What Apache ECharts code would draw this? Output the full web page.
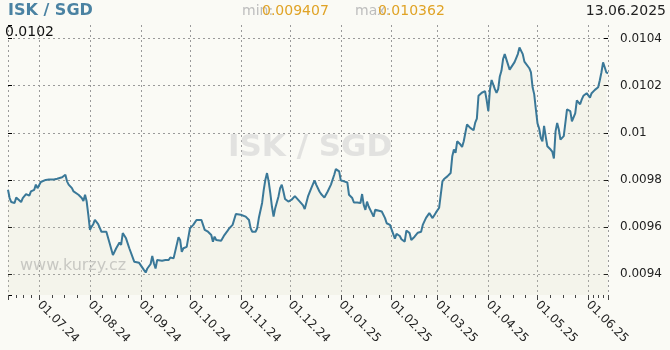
<!DOCTYPE html>
<html>
<head>
<meta charset="utf-8">
<script src="https://cdn.jsdelivr.net/npm/echarts@6/dist/echarts.min.js"></script>
<style>
  html, body { margin: 0; padding: 0; background: #fafaf5; }
  #chart { width: 670px; height: 350px; }
</style>
</head>
<body>
<div id="chart"></div>
<script>
// ISK / SGD daily rate, 12.06.2024 – 13.06.2025
const pairName = 'ISK / SGD';
const siteName = 'www.kurzy.cz';
const lastDateText = '13.06.2025';
const lastRateText = '0.0102';
const minRate = 0.009407;
const maxRate = 0.010362;

const dates = [
  '2024-06-12','2024-06-13','2024-06-14','2024-06-16','2024-06-17','2024-06-18','2024-06-20','2024-06-21','2024-06-23','2024-06-25',
  '2024-06-26','2024-06-28','2024-06-29','2024-06-30','2024-07-02','2024-07-03','2024-07-05','2024-07-07','2024-07-08','2024-07-10',
  '2024-07-12','2024-07-15','2024-07-16','2024-07-17','2024-07-18','2024-07-19','2024-07-21','2024-07-22','2024-07-23','2024-07-25',
  '2024-07-26','2024-07-27','2024-07-28','2024-07-29','2024-07-30','2024-07-31','2024-08-01','2024-08-02','2024-08-03','2024-08-04',
  '2024-08-06','2024-08-07','2024-08-08','2024-08-09','2024-08-11','2024-08-12','2024-08-13','2024-08-15','2024-08-17','2024-08-19',
  '2024-08-20','2024-08-21','2024-08-23','2024-08-25','2024-08-26','2024-08-28','2024-08-29','2024-08-31','2024-09-01','2024-09-03',
  '2024-09-04','2024-09-05','2024-09-07','2024-09-08','2024-09-09','2024-09-10','2024-09-11','2024-09-14','2024-09-16','2024-09-18',
  '2024-09-19','2024-09-21','2024-09-22','2024-09-24','2024-09-25','2024-09-26','2024-09-27','2024-09-29','2024-09-30','2024-10-01',
  '2024-10-03','2024-10-05','2024-10-06','2024-10-08','2024-10-09','2024-10-10','2024-10-12','2024-10-14','2024-10-15','2024-10-16',
  '2024-10-17','2024-10-18','2024-10-20','2024-10-21','2024-10-22','2024-10-24','2024-10-25','2024-10-27','2024-10-29','2024-10-30',
  '2024-11-01','2024-11-04','2024-11-06','2024-11-07','2024-11-08','2024-11-10','2024-11-11','2024-11-12','2024-11-14','2024-11-15',
  '2024-11-16','2024-11-17','2024-11-18','2024-11-19','2024-11-20','2024-11-21','2024-11-22','2024-11-24','2024-11-25','2024-11-26',
  '2024-11-27','2024-11-28','2024-11-30','2024-12-01','2024-12-02','2024-12-04','2024-12-05','2024-12-07','2024-12-09','2024-12-10',
  '2024-12-11','2024-12-12','2024-12-14','2024-12-16','2024-12-17','2024-12-19','2024-12-20','2024-12-22','2024-12-24','2024-12-26',
  '2024-12-28','2024-12-29','2024-12-31','2025-01-01','2025-01-03','2025-01-05','2025-01-06','2025-01-08','2025-01-09','2025-01-11',
  '2025-01-13','2025-01-14','2025-01-15','2025-01-16','2025-01-17','2025-01-18','2025-01-20','2025-01-21','2025-01-22','2025-01-23',
  '2025-01-26','2025-01-28','2025-01-29','2025-01-31','2025-02-01','2025-02-03','2025-02-04','2025-02-06','2025-02-07','2025-02-09',
  '2025-02-10','2025-02-12','2025-02-13','2025-02-15','2025-02-17','2025-02-19','2025-02-20','2025-02-22','2025-02-24','2025-02-25',
  '2025-02-26','2025-02-28','2025-03-02','2025-03-03','2025-03-04','2025-03-05','2025-03-07','2025-03-09','2025-03-10','2025-03-11',
  '2025-03-12','2025-03-13','2025-03-15','2025-03-16','2025-03-17','2025-03-18','2025-03-19','2025-03-21','2025-03-23','2025-03-24',
  '2025-03-25','2025-03-26','2025-03-28','2025-03-30','2025-03-31','2025-04-01','2025-04-02','2025-04-03','2025-04-04','2025-04-05',
  '2025-04-06','2025-04-07','2025-04-08','2025-04-09','2025-04-10','2025-04-11','2025-04-12','2025-04-14','2025-04-15','2025-04-17',
  '2025-04-19','2025-04-20','2025-04-22','2025-04-23','2025-04-24','2025-04-26','2025-04-27','2025-04-28','2025-04-29','2025-04-30',
  '2025-05-01','2025-05-02','2025-05-03','2025-05-04','2025-05-05','2025-05-06','2025-05-07','2025-05-08','2025-05-09','2025-05-10',
  '2025-05-11','2025-05-12','2025-05-13','2025-05-14','2025-05-15','2025-05-17','2025-05-18','2025-05-19','2025-05-21','2025-05-22',
  '2025-05-24','2025-05-25','2025-05-27','2025-05-28','2025-05-29','2025-05-31','2025-06-01','2025-06-02','2025-06-03','2025-06-05',
  '2025-06-07','2025-06-08','2025-06-09','2025-06-10','2025-06-11','2025-06-12','2025-06-13'
];

const rates = [
  0.009758,0.009723,0.009706,0.009702,0.009725,0.009730,0.009706,0.009723,0.009740,0.009733,
  0.009751,0.009758,0.009780,0.009765,0.009791,0.009798,0.009800,0.009802,0.009800,0.009802,
  0.009805,0.009811,0.009819,0.009822,0.009794,0.009780,0.009765,0.009751,0.009754,0.009737,
  0.009740,0.009723,0.009711,0.009737,0.009708,0.009652,0.009588,0.009602,0.009612,0.009630,
  0.009612,0.009609,0.009580,0.009576,0.009580,0.009574,0.009531,0.009481,0.009510,0.009534,
  0.009524,0.009574,0.009552,0.009510,0.009502,0.009453,0.009446,0.009448,0.009446,0.009417,
  0.009407,0.009424,0.009443,0.009477,0.009446,0.009424,0.009460,0.009457,0.009460,0.009460,
  0.009471,0.009467,0.009460,0.009557,0.009545,0.009495,0.009510,0.009516,0.009519,0.009595,
  0.009609,0.009630,0.009638,0.009630,0.009638,0.009588,0.009580,0.009566,0.009538,0.009559,
  0.009545,0.009548,0.009542,0.009538,0.009566,0.009585,0.009595,0.009609,0.009655,0.009656,
  0.009652,0.009644,0.009630,0.009595,0.009580,0.009580,0.009595,0.009638,0.009702,0.009758,
  0.009801,0.009829,0.009794,0.009744,0.009687,0.009644,0.009680,0.009730,0.009765,0.009780,
  0.009751,0.009719,0.009708,0.009702,0.009716,0.009731,0.009730,0.009708,0.009692,0.009676,
  0.009671,0.009730,0.009765,0.009798,0.009780,0.009751,0.009740,0.009725,0.009751,0.009780,
  0.009822,0.009846,0.009836,0.009798,0.009794,0.009789,0.009737,0.009723,0.009704,0.009704,
  0.009702,0.009740,0.009694,0.009673,0.009708,0.009687,0.009659,0.009644,0.009673,0.009666,
  0.009666,0.009638,0.009616,0.009609,0.009602,0.009551,0.009571,0.009562,0.009548,0.009538,
  0.009585,0.009574,0.009545,0.009559,0.009576,0.009580,0.009609,0.009639,0.009659,0.009661,
  0.009638,0.009661,0.009682,0.009680,0.009794,0.009804,0.009815,0.009829,0.009900,0.009929,
  0.009915,0.009964,0.009950,0.009940,0.009964,0.010000,0.010035,0.010021,0.010011,0.010043,
  0.010060,0.010157,0.010170,0.010177,0.010138,0.010092,0.010185,0.010224,0.010220,0.010185,
  0.010170,0.010185,0.010239,0.010263,0.010313,0.010334,0.010342,0.010268,0.010273,0.010300,
  0.010334,0.010362,0.010334,0.010302,0.010304,0.010274,0.010256,0.010193,0.010163,0.010099,
  0.010040,0.010018,0.009979,0.009964,0.010029,0.009984,0.009943,0.009939,0.009929,0.009920,
  0.009891,0.010006,0.010042,0.010014,0.009971,0.009986,0.009985,0.010099,0.010092,0.010049,
  0.010082,0.010138,0.010121,0.010142,0.010157,0.010168,0.010173,0.010149,0.010168,0.010182,
  0.010193,0.010223,0.010257,0.010299,0.010278,0.010256,0.010252
];

// Axis range: 10 % padding around the data range
const span = maxRate - minRate;
const yMin = minRate - span * 0.1;
const yMax = maxRate + span * 0.1;

const seriesData = dates.map((d, i) => [d, rates[i]]);

const pad2 = n => (n < 10 ? '0' : '') + n;
const fmtDate = v => {
  const d = new Date(v);
  return pad2(d.getDate()) + '.' + pad2(d.getMonth() + 1) + '.' + pad2(d.getFullYear() % 100);
};
const fmtRate = v => String(+v.toFixed(6));

const FONT = '"DejaVu Sans", Verdana, sans-serif';
const gridLine = { color: '#9a9a9a', width: 1, type: [2, 3] };

const chart = echarts.init(document.getElementById('chart'), null, { renderer: 'canvas' });

chart.setOption({
  backgroundColor: '#fafaf5',
  animation: false,
  grid: { left: 8, right: 62, top: 25, bottom: 55, containLabel: false },
  xAxis: {
    type: 'time',
    min: '2024-06-12',
    max: '2025-06-13',
    minInterval: 28 * 864e5,
    maxInterval: 31 * 864e5,
    axisLine: { show: false },
    axisTick: { show: true, length: 5, lineStyle: { color: '#444' } },
    minorTick: { show: true, splitNumber: 4, length: 3, lineStyle: { color: '#444' } },
    splitLine: { show: true, lineStyle: gridLine },
    axisLabel: {
      rotate: -45,
      margin: 8,
      color: '#222',
      fontSize: 12,
      fontFamily: FONT,
      hideOverlap: false,
      showMinLabel: false,
      showMaxLabel: false,
      formatter: fmtDate
    }
  },
  yAxis: [
    {
      type: 'value',
      position: 'right',
      min: yMin,
      max: yMax,
      splitNumber: 6,
      axisLine: { show: false },
      axisTick: { show: true, inside: true, length: 4, lineStyle: { color: '#000' } },
      axisLabel: {
        color: '#222', fontSize: 12, fontFamily: FONT, margin: 12,
        showMinLabel: false, showMaxLabel: false, formatter: fmtRate
      },
      splitLine: { show: true, showMinLine: false, showMaxLine: false, lineStyle: gridLine }
    },
    {
      type: 'value',
      position: 'left',
      min: yMin,
      max: yMax,
      splitNumber: 6,
      axisLine: { show: false },
      axisTick: { show: true, inside: true, length: 4, lineStyle: { color: '#000' } },
      axisLabel: { show: false },
      splitLine: { show: false }
    }
  ],
  graphic: [
    { type: 'text', left: 8, top: 3, z: 10,
      style: { text: pairName, font: 'bold 16px ' + FONT, fill: '#4a82a2' } },
    { type: 'text', left: 242, top: 4, z: 10,
      style: { text: 'min:', font: '14px ' + FONT, fill: '#bdbdbd' } },
    { type: 'text', left: 262, top: 4, z: 11,
      style: { text: String(minRate), font: '14px ' + FONT, fill: '#e0a326' } },
    { type: 'text', left: 355, top: 4, z: 10,
      style: { text: 'max:', font: '14px ' + FONT, fill: '#bdbdbd' } },
    { type: 'text', left: 378, top: 4, z: 11,
      style: { text: String(maxRate), font: '14px ' + FONT, fill: '#e0a326' } },
    { type: 'text', right: 4, top: 4, z: 10,
      style: { text: lastDateText, font: '14px ' + FONT, fill: '#222' } },
    { type: 'text', left: 5, top: 25, z: 10,
      style: { text: lastRateText, font: '14px ' + FONT, fill: '#111' } },
    { type: 'text', left: 228, top: 132, z: 1,
      style: { text: pairName, font: 'bold 31px ' + FONT, fill: '#e2e2e0' } },
    { type: 'text', left: 20, top: 258, z: 1,
      style: { text: siteName, font: '16px ' + FONT, fill: '#c6c6c4' } }
  ],
  series: [
    {
      type: 'line',
      data: seriesData,
      yAxisIndex: 0,
      showSymbol: false,
      z: 3,
      lineStyle: { color: '#3a7898', width: 2 },
      areaStyle: { color: 'rgba(216,216,192,0.24)', origin: 'start' }
    }
  ]
});
</script>
</body>
</html>
